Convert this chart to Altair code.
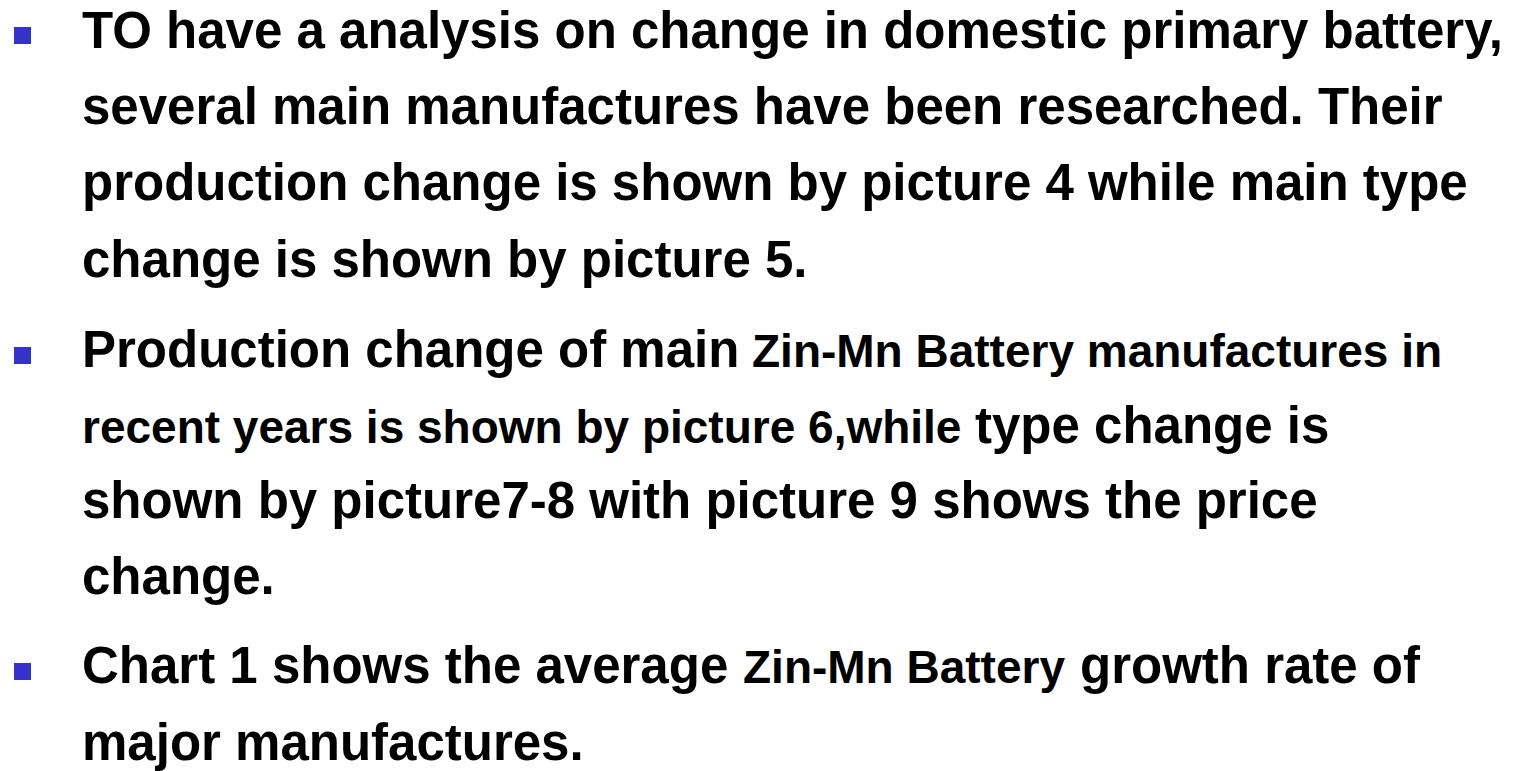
import altair as alt
import pandas as pd

# Text content (segments of each visual line)
seg_text = [
    "TO have a analysis on change in domestic primary battery,",
    "several main manufactures have been researched. Their",
    "production change is shown by picture 4 while main type",
    "change is shown by picture 5.",
    "Production change of main",
    "Zin-Mn Battery manufactures in",
    "recent years is shown by picture 6,while",
    "type change is",
    "shown by picture7-8 with picture 9 shows the price",
    "change.",
    "Chart 1 shows the average",
    "Zin-Mn Battery",
    "growth rate of",
    "major manufactures.",
]
# Which segments use the smaller font
seg_small = [False, False, False, False, False, True, True, False,
             False, False, False, True, False, False]

# Layout (reference pixel coordinates)
seg_x = [82, 82, 82, 82, 82, 752, 82, 975, 82, 82, 82, 743, 1080, 82]
seg_y = [48, 124, 200, 277, 367, 367, 443, 443, 518, 594, 683, 683, 683, 760]
bullet_cx = [22.5, 22.5, 22.5]
bullet_cy = [35.5, 355.5, 671.5]
BIG, SMALL = 51, 46
HALF = 8.5

W, H = 1513, 763
xs = alt.Scale(domain=[8, 8 + W], range=[0, W])
ys = alt.Scale(domain=[8, 8 + H], range=[0, H])

text_df = pd.DataFrame({
    "t": seg_text,
    "x": seg_x,
    "y": seg_y,
    "fs": [SMALL if s else BIG for s in seg_small],
})
bul_df = pd.DataFrame({
    "x1": [c - HALF for c in bullet_cx],
    "x2": [c + HALF for c in bullet_cx],
    "y1": [c - HALF for c in bullet_cy],
    "y2": [c + HALF for c in bullet_cy],
})

texts = alt.Chart(text_df).mark_text(
    align="left", baseline="alphabetic", font="Liberation Sans",
    fontWeight="bold", color="black"
).encode(
    x=alt.X("x:Q", scale=xs, axis=None),
    y=alt.Y("y:Q", scale=ys, axis=None),
    text="t:N",
    size=alt.Size("fs:Q", scale=None, legend=None),
)

bullets = alt.Chart(bul_df).mark_rect(color="#3333CC").encode(
    x=alt.X("x1:Q", scale=xs, axis=None),
    x2="x2:Q",
    y=alt.Y("y1:Q", scale=ys, axis=None),
    y2="y2:Q",
)

chart = alt.layer(bullets, texts).properties(
    width=W, height=H, padding=0, autosize=alt.AutoSizeParams(type="none")
).configure_view(stroke="transparent")

chart.save("out.html", embed_options={"renderer": "svg", "actions": False})
